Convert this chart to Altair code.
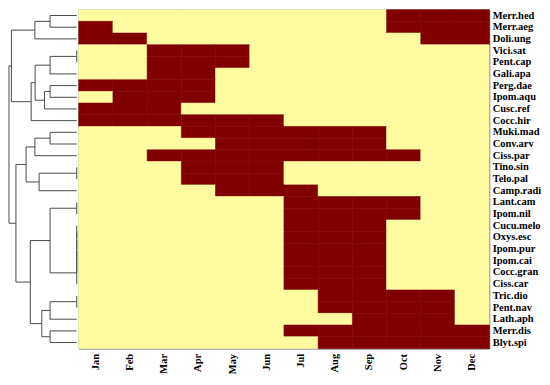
import altair as alt
import pandas as pd

species = ["Merr.hed", "Merr.aeg", "Doli.ung", "Vici.sat", "Pent.cap", "Gali.apa",
           "Perg.dae", "Ipom.aqu", "Cusc.ref", "Cocc.hir", "Muki.mad", "Conv.arv",
           "Ciss.par", "Tino.sin", "Telo.pal", "Camp.radi", "Lant.cam", "Ipom.nil",
           "Cucu.melo", "Oxys.esc", "Ipom.pur", "Ipom.cai", "Cocc.gran", "Ciss.car",
           "Tric.dio", "Pent.nav", "Lath.aph", "Merr.dis", "Blyt.spi"]

months = ["Jan", "Feb", "Mar", "Apr", "May", "Jun",
          "Jul", "Aug", "Sep", "Oct", "Nov", "Dec"]

# 1 = flowering month (dark cell), 0 = not (light cell)
flowering = [
    "000000000111",  # Merr.hed
    "100000000111",  # Merr.aeg
    "110000000011",  # Doli.ung
    "001110000000",  # Vici.sat
    "001110000000",  # Pent.cap
    "001100000000",  # Gali.apa
    "111100000000",  # Perg.dae
    "011100000000",  # Ipom.aqu
    "111000000000",  # Cusc.ref
    "111111000000",  # Cocc.hir
    "000111111000",  # Muki.mad
    "000011111000",  # Conv.arv
    "001111111100",  # Ciss.par
    "000111000000",  # Tino.sin
    "000111000000",  # Telo.pal
    "000011100000",  # Camp.radi
    "000000111100",  # Lant.cam
    "000000111100",  # Ipom.nil
    "000000111000",  # Cucu.melo
    "000000111000",  # Oxys.esc
    "000000111000",  # Ipom.pur
    "000000111000",  # Ipom.cai
    "000000111000",  # Cocc.gran
    "000000111000",  # Ciss.car
    "000000011110",  # Tric.dio
    "000000011110",  # Pent.nav
    "000000001110",  # Lath.aph
    "000000111111",  # Merr.dis
    "000000011111",  # Blyt.spi
]

# dendrogram merges: leaves are 0..28, merge k gets id 29+k
merge_left = [0, 29, 3, 31, 6, 33, 32, 35, 30, 10, 38, 13, 40, 39, 16, 18, 44, 45, 46, 47,
              43, 24, 50, 27, 51, 49, 42, 37]
merge_right = [1, 2, 4, 5, 7, 8, 34, 9, 36, 11, 12, 14, 15, 41, 17, 19, 20, 21, 22, 23,
               48, 25, 26, 28, 52, 53, 54, 55]
merge_height = [1.0, 1.57, 0.0, 1.0, 1.0, 1.21, 1.56, 1.71, 2.45, 1.0, 1.57, 0.0, 1.41,
                1.90, 0.0, 0.0, 0.0, 0.0, 0.0, 0.0, 1.0, 0.0, 1.0, 1.0, 1.31, 1.74,
                2.28, 2.54]

# ---- heatmap table
cells = []
for s, row in zip(species, flowering):
    for m, v in zip(months, row):
        cells.append({"species": s, "month": m, "flower": v})
cells = pd.DataFrame(cells)

# ---- dendrogram segments (positions derived from the tree)
n = len(species)
pos = {i: float(i) for i in range(n)}
hgt = {i: 0.0 for i in range(n)}
segs = []
for k, (a, b, h) in enumerate(zip(merge_left, merge_right, merge_height)):
    nid = n + k
    for c in (a, b):
        segs.append({"h1": hgt[c], "h2": h, "p1": pos[c], "p2": pos[c]})
    segs.append({"h1": h, "h2": h, "p1": pos[a], "p2": pos[b]})
    pos[nid] = (pos[a] + pos[b]) / 2
    hgt[nid] = h
segs = pd.DataFrame(segs)

H = 340
serif = "Liberation Serif"
cell_scale = alt.Scale(domain=["0", "1"], range=["#FFFBA0", "#800000"])

dendro = alt.Chart(segs).mark_rule(color="#4a4a4a", strokeWidth=1).encode(
    x=alt.X("h1:Q", axis=None, scale=alt.Scale(domain=[0, 2.54], reverse=True, nice=False, zero=False)),
    x2="h2:Q",
    y=alt.Y("p1:Q", axis=None, scale=alt.Scale(domain=[-0.5, n - 0.5], reverse=True, nice=False, zero=False)),
    y2="p2:Q",
).properties(width=68, height=H, view=alt.ViewBackground(stroke="transparent"))

heat = alt.Chart(cells).mark_rect(strokeWidth=0.6).encode(
    x=alt.X("month:O", sort=months, title=None,
            scale=alt.Scale(paddingInner=0, paddingOuter=0),
            axis=alt.Axis(orient="bottom", labelAngle=-90, ticks=False, domain=False,
                          labelFont=serif, labelFontWeight="bold", labelFontSize=10.5,
                          labelColor="black", labelPadding=5)),
    y=alt.Y("species:O", sort=species, title=None,
            scale=alt.Scale(paddingInner=0, paddingOuter=0),
            axis=alt.Axis(orient="right", ticks=False, domain=False,
                          labelFont=serif, labelFontWeight="bold", labelFontSize=10.5,
                          labelColor="black", labelPadding=3)),
    color=alt.Color("flower:N", legend=None, scale=cell_scale),
    stroke=alt.Stroke("flower:N", legend=None, scale=cell_scale),
).properties(width=412, height=H, view=alt.ViewBackground(stroke="#3c3c3c", strokeWidth=1))

chart = alt.hconcat(dendro, heat, spacing=0).resolve_scale(y="independent", x="independent").properties(
    padding=0
).configure_view(strokeWidth=1)

chart.save("out.html", embed_options={"renderer": "svg", "actions": False})
